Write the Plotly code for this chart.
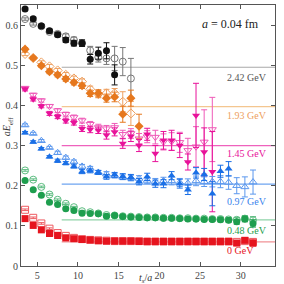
import plotly.graph_objects as go

# ---- data ----
ts = [3.5, 4.5, 5.5, 6.5, 7.5, 8.5, 9.5, 10.5, 11.5, 12.5, 13.5, 14.5, 15.5, 16.5, 17.5,
      18.5, 19.5, 20.5, 21.5, 22.5, 23.5, 24.5, 25.5, 26.5, 27.5, 28.5, 29.5, 30.5, 31.5]

labels = ["2.42 GeV", "1.93 GeV", "1.45 GeV", "0.97 GeV", "0.48 GeV", "0 GeV"]
plateaus = [0.495, 0.397, 0.300, 0.204, 0.115, 0.060]
label_y = [0.470, 0.374, 0.279, 0.160, 0.0875, 0.0375]
fit_start = 8

black_f = [0.640, 0.616, 0.598, 0.586, 0.576, 0.563, 0.555, 0.555, 0.515, 0.530, 0.536, 0.476, None, None]
black_fe = [0.004, 0.004, 0.004, 0.004, 0.005, 0.006, 0.007, 0.008, 0.012, 0.015, 0.02, 0.025, 0, 0]
black_o = [0.615, 0.603, 0.597, 0.583, 0.578, 0.572, 0.563, 0.555, 0.537, 0.520, 0.517, 0.517, 0.509, 0.467]
black_oe = [0.003, 0.003, 0.004, 0.004, 0.005, 0.006, 0.007, 0.008, 0.01, 0.012, 0.015, 0.03, 0.035, 0.05]

orange_f = [0.540, 0.518, 0.499, 0.484, 0.476, 0.466, 0.457, 0.449, 0.430, 0.430, 0.418, 0.421, 0.378, 0.418, 0.348]
orange_fe = [0.004, 0.004, 0.004, 0.005, 0.005, 0.006, 0.006, 0.007, 0.008, 0.009, 0.01, 0.012, 0.02, 0.02, 0.03]
orange_o = [0.528, 0.518, 0.507, 0.497, 0.487, 0.476, 0.467, 0.459, 0.440, 0.428, 0.430, 0.430, 0.409, 0.380]
orange_oe = [0.004, 0.004, 0.004, 0.005, 0.005, 0.006, 0.006, 0.007, 0.008, 0.009, 0.01, 0.012, 0.025, 0.03]

magenta_f = [0.440, 0.415, 0.398, 0.380, 0.372, 0.362, 0.357, 0.342, 0.340, 0.338, 0.326, 0.334,
             0.305, 0.323, 0.300, 0.328, 0.280, 0.313, 0.313, 0.300, 0.259, 0.375, 0.284, 0.235]
magenta_fe = [0.004, 0.004, 0.004, 0.005, 0.005, 0.006, 0.006, 0.007, 0.008, 0.008, 0.01, 0.01,
              0.012, 0.013, 0.015, 0.015, 0.02, 0.022, 0.025, 0.03, 0.02, 0.08, 0.06, 0.1]
magenta_o = [0.443, 0.426, 0.412, 0.398, 0.387, 0.378, 0.370, 0.362, 0.353, 0.345, 0.342, 0.345,
             0.328, 0.330, 0.317, 0.322, 0.321, 0.309, 0.310, 0.308, 0.288, 0.297, 0.309, 0.340]
magenta_oe = [0.004, 0.004, 0.004, 0.004, 0.005, 0.005, 0.006, 0.006, 0.007, 0.008, 0.008, 0.01,
              0.01, 0.012, 0.013, 0.015, 0.017, 0.02, 0.022, 0.025, 0.03, 0.05, 0.08, 0.08]

blue_f = [0.332, 0.309, 0.292, 0.272, 0.262, 0.256, 0.248, 0.235, 0.237, 0.233, 0.222, 0.227,
          0.223, 0.221, 0.210, 0.222, 0.205, 0.205, 0.225, 0.205, 0.190, 0.232, 0.228, 0.180,
          0.236, 0.242]
blue_fe = [0.003, 0.003, 0.003, 0.003, 0.004, 0.004, 0.004, 0.005, 0.005, 0.005, 0.006, 0.006,
           0.007, 0.007, 0.008, 0.009, 0.009, 0.01, 0.01, 0.011, 0.012, 0.013, 0.015, 0.03,
           0.015, 0.018]
blue_o = [0.351, 0.330, 0.312, 0.295, 0.282, 0.270, 0.260, 0.248, 0.243, 0.233, 0.229, 0.225,
          0.221, 0.219, 0.218, 0.213, 0.210, 0.212, 0.212, 0.208, 0.206, 0.212, 0.210, 0.210,
          0.210, 0.208, 0.200, 0.197, 0.209]
blue_oe = [0.003, 0.003, 0.003, 0.003, 0.004, 0.004, 0.004, 0.005, 0.005, 0.005, 0.006, 0.006,
           0.006, 0.007, 0.007, 0.008, 0.008, 0.009, 0.01, 0.01, 0.011, 0.012, 0.012, 0.013,
           0.015, 0.017, 0.02, 0.025, 0.03]

green_f = [0.213, 0.190, 0.176, 0.159, 0.153, 0.1425, 0.138, 0.1315, 0.131, 0.130, 0.124, 0.126,
           0.123, 0.122, 0.121, 0.120, 0.120, 0.119, 0.119, 0.118, 0.117, 0.117, 0.116, 0.116,
           0.115, 0.114, 0.110, 0.117, 0.106]
green_fe = [0.002] * 10 + [0.003] * 10 + [0.004, 0.004, 0.004, 0.005, 0.005, 0.005, 0.006, 0.007, 0.009]
green_o = [0.238, 0.215, 0.197, 0.178, 0.165, 0.155, 0.1465, 0.1365, 0.134, 0.131, 0.127, 0.126,
           0.124, 0.123, 0.122, 0.121, 0.121, 0.120, 0.120, 0.119, 0.119, 0.118, 0.118, 0.117,
           0.117, 0.116, 0.115, 0.118, 0.114]
green_oe = [0.002] * 10 + [0.003] * 10 + [0.004, 0.004, 0.004, 0.005, 0.005, 0.005, 0.006, 0.007, 0.009]

red_f = [0.118, 0.101, 0.090, 0.081, 0.076, 0.070, 0.068, 0.066, 0.065, 0.063, 0.062, 0.062,
         0.062, 0.062, 0.061, 0.061, 0.061, 0.061, 0.061, 0.061, 0.061, 0.061, 0.061, 0.061,
         0.061, 0.061, 0.057, 0.064, 0.057]
red_fe = [0.002] * 20 + [0.003, 0.003, 0.003, 0.003, 0.004, 0.004, 0.004, 0.005, 0.007]
red_o = [0.140, 0.120, 0.106, 0.093, 0.082, 0.075, 0.070, 0.067, 0.065, 0.064, 0.063, 0.062,
         0.062, 0.062, 0.062, 0.061, 0.061, 0.061, 0.061, 0.061, 0.061, 0.061, 0.061, 0.061,
         0.061, 0.061, 0.060, 0.062, 0.060]
red_oe = [0.002] * 20 + [0.003, 0.003, 0.003, 0.003, 0.004, 0.004, 0.004, 0.005, 0.007]

series = [
    ("black", "#111111", "#777777", "#a8a8a8", "circle", black_f, black_fe, black_o, black_oe),
    ("orange", "#e6781e", "#eea060", "#f4c690", "diamond", orange_f, orange_fe, orange_o, orange_oe),
    ("magenta", "#e8129a", "#ef5ab8", "#ee62bd", "triangle-down", magenta_f, magenta_fe, magenta_o, magenta_oe),
    ("blue", "#1a6fe6", "#5c98ee", "#6ea4f0", "triangle-up", blue_f, blue_fe, blue_o, blue_oe),
    ("green", "#1e9e4e", "#5cbc80", "#8fd3a8", "circle", green_f, green_fe, green_o, green_oe),
    ("red", "#e6141e", "#ee5a60", "#f09296", "square", red_f, red_fe, red_o, red_oe),
]
label_colors = ["#555555", "#eea060", "#e8129a", "#3a84ec", "#1e9e4e", "#e6141e"]

x_max = 34.2

fig = go.Figure()

for i, (name, col, ocol, lcol, sym, yf, ef, yo, eo) in enumerate(series):
    fig.add_trace(go.Scatter(x=[fit_start, x_max], y=[plateaus[i]] * 2, mode="lines",
                             line=dict(color=lcol, width=1.2), hoverinfo="skip", showlegend=False))
    n_o = len(yo)
    fig.add_trace(go.Scatter(
        x=ts[:n_o], y=yo, mode="markers",
        marker=dict(symbol=sym + "-open", size=7, color=ocol, line=dict(width=1, color=ocol)),
        error_y=dict(type="data", array=eo, color=ocol, thickness=1, width=3),
        showlegend=False))
    n_f = len(yf)
    fig.add_trace(go.Scatter(
        x=ts[:n_f], y=yf, mode="markers",
        marker=dict(symbol=sym, size=7, color=col, line=dict(width=0)),
        error_y=dict(type="data", array=ef, color=col, thickness=1, width=3),
        showlegend=False))

for i, lab in enumerate(labels):
    fig.add_annotation(x=28.0, y=label_y[i], text=lab, showarrow=False, xanchor="left",
                       yanchor="middle", font=dict(family="Liberation Serif", size=10,
                                                   color=label_colors[i]))

fig.add_annotation(x=28.7, y=0.603, text="<i>a</i> = 0.04 fm", showarrow=False,
                   xanchor="center", yanchor="middle",
                   font=dict(family="Liberation Serif", size=12, color="#222222"))

fig.add_annotation(xref="paper", yref="paper", x=0.49, y=-0.046, text="<i>t<sub>s</sub></i>/<i>a</i>",
                   showarrow=False, xanchor="center", yanchor="middle",
                   font=dict(family="Liberation Serif", size=10, color="#333333"))
fig.add_annotation(xref="paper", yref="paper", x=-0.052, y=0.535, text="<i>aE</i><sub>eff</sub>",
                   showarrow=False, xanchor="center", yanchor="middle", textangle=-90,
                   font=dict(family="Liberation Serif", size=10, color="#333333"))

axis_common = dict(showgrid=False, zeroline=False, mirror="ticks", ticks="inside",
                   ticklen=4, tickcolor="#555555", showline=True, linecolor="#555555",
                   linewidth=1, automargin=False,
                   tickfont=dict(family="Liberation Serif", size=10, color="#444444"))

fig.update_layout(
    width=284, height=284,
    margin=dict(l=21, r=9, t=5, b=18, autoexpand=False),
    paper_bgcolor="white", plot_bgcolor="white",
    xaxis=dict(range=[3, x_max], tickvals=[5, 10, 15, 20, 25, 30], **axis_common),
    yaxis=dict(range=[0, 0.65], tickvals=[0, 0.1, 0.2, 0.3, 0.4, 0.5, 0.6],
               ticktext=["0", "0.1", "0.2", "0.3", "0.4", "0.5", "0.6"], **axis_common),
)

fig.write_html("out.html", config={"displayModeBar": False},
               post_script="document.body.style.margin='0';document.body.style.overflow='hidden';")
